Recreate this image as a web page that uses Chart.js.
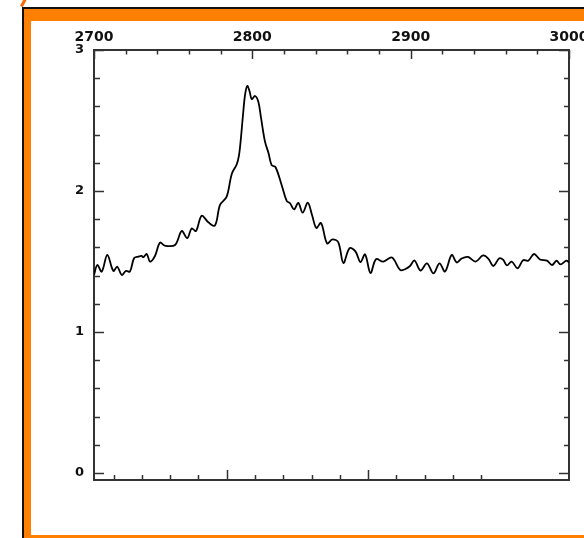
<!DOCTYPE html>
<html>
<head>
<meta charset="utf-8">
<script src="https://cdn.jsdelivr.net/npm/chart.js@4"></script>
<style>
  html, body { margin: 0; padding: 0; width: 584px; height: 538px; overflow: hidden; background: #fff; }
  #frame { position: absolute; left: 22px; top: 7px; width: 640px; height: 600px;
           border-left: 2px solid #111; border-top: 2px solid #111; background: #ff8000; }
  #inner { position: absolute; left: 31px; top: 21px; width: 620px; height: 514px; background: #fff; }
  #streak { position: absolute; left: 22px; top: -2px; width: 3px; height: 9px; background: #ff6a00;
            transform: rotate(28deg); }
  #chart { position: absolute; left: 0; top: 0; }
</style>
</head>
<body>
<div id="streak"></div>
<div id="frame"></div>
<div id="inner"></div>
<canvas id="chart" width="584" height="538"></canvas>
<script>
// spectrum: wavelength vs flux
const wave = [2700,2702.1,2704.9,2708.4,2712.2,2714.7,2717.5,2720.2,2722.7,2725.3,
  2728.0,2730.1,2731.1,2733.3,2735.4,2738.5,2741.7,2744.8,2751.2,2755.4,
  2758.9,2761.7,2764.4,2768.0,2772.2,2776.4,2779.6,2783.8,2787.0,2790.1,
  2791.6,2792.8,2794.1,2795.4,2796.8,2798.2,2799.6,2801.7,2803.8,2805.5,
  2808.0,2810.2,2812.2,2814.6,2818.5,2821.7,2823.8,2826.3,2829.0,2831.8,
  2835.0,2837.7,2840.4,2843.4,2847.2,2850.6,2854.3,2857.5,2861.4,2865.2,
  2868.3,2871.2,2874.6,2878.1,2882.7,2888.2,2893.3,2896.4,2899.6,2902.4,
  2906.2,2910.3,2914.4,2918.2,2921.7,2925.9,2929.1,2932.2,2936.2,2941.0,
  2945.7,2949.0,2952.2,2956.0,2958.5,2960.8,2963.8,2967.5,2971.0,2974.3,
  2977.9,2981.7,2986.1,2989.3,2992.1,2994.6,2998.3,3000];
const flux = [1.404,1.475,1.428,1.546,1.433,1.463,1.404,1.433,1.428,1.523,
  1.534,1.539,1.530,1.553,1.499,1.539,1.633,1.612,1.617,1.716,
  1.665,1.735,1.716,1.825,1.778,1.755,1.901,1.960,2.121,2.188,
  2.255,2.376,2.539,2.681,2.745,2.709,2.652,2.674,2.633,2.518,
  2.350,2.270,2.184,2.170,2.043,1.929,1.913,1.869,1.915,1.846,
  1.917,1.830,1.738,1.773,1.628,1.657,1.636,1.489,1.594,1.570,
  1.496,1.550,1.418,1.516,1.499,1.528,1.440,1.445,1.468,1.507,
  1.436,1.487,1.416,1.487,1.429,1.546,1.493,1.521,1.532,1.499,
  1.543,1.521,1.468,1.523,1.511,1.472,1.499,1.452,1.509,1.506,
  1.553,1.514,1.506,1.475,1.505,1.479,1.506,1.493];

// tick values
const xMajor = [2700, 2800, 2900, 3000];
const xMinor = [2720,2740,2760,2780,2820,2840,2860,2880,2920,2940,2960,2980];
const yMajor = [0, 1, 2, 3];
const yMinor = [0.2,0.4,0.6,0.8,1.2,1.4,1.6,1.8,2.2,2.4,2.6,2.8];
const botMajor = [5, 10];
const botMinor = [1,2,3,4,6,7,8,9,11,12,13,14];

const AXIS = "#333";

// inward tick marks, placed through each scale
const inwardTicks = {
  id: "inwardTicks",
  afterDraw(chart) {
    const { ctx, chartArea: a, scales } = chart;
    ctx.save();
    ctx.strokeStyle = AXIS;
    ctx.lineWidth = 1.5;
    const vtick = (scale, vals, len, y0, dir) => vals.forEach(v => {
      const px = Math.round(scale.getPixelForValue(v)) + 0.5;
      ctx.beginPath(); ctx.moveTo(px, y0); ctx.lineTo(px, y0 + dir * len); ctx.stroke();
    });
    const htick = (scale, vals, len, x0, dir) => vals.forEach(v => {
      const py = Math.round(scale.getPixelForValue(v)) + 0.5;
      ctx.beginPath(); ctx.moveTo(x0, py); ctx.lineTo(x0 + dir * len, py); ctx.stroke();
    });
    vtick(scales.x, xMajor, 9, a.top, 1);
    vtick(scales.x, xMinor, 4.5, a.top, 1);
    vtick(scales.x2, botMajor, 10, a.bottom, -1);
    vtick(scales.x2, botMinor, 5, a.bottom, -1);
    htick(scales.y, yMajor, 10, a.left, 1);
    htick(scales.y, yMinor, 6, a.left, 1);
    htick(scales.y, yMajor, 10, a.right, -1);
    htick(scales.y, yMinor, 5, a.right, -1);
    ctx.restore();
  }
};

const noGrid = { display: false, drawTicks: false };
const border = { display: true, color: AXIS, width: 2 };

new Chart(document.getElementById("chart"), {
  type: "line",
  data: {
    datasets: [{
      data: wave.map((w, i) => ({ x: w, y: flux[i] })),
      borderColor: "#000",
      borderWidth: 1.8,
      pointRadius: 0,
      tension: 0.35,
      fill: false,
      xAxisID: "x",
      yAxisID: "y",
    }],
  },
  options: {
    responsive: false,
    animation: false,
    parsing: false,
    layout: { padding: { left: 0, top: 0, right: 15, bottom: 58 } },
    plugins: { legend: { display: false }, tooltip: { enabled: false } },
    scales: {
      x: {
        type: "linear", position: "top", min: 2700, max: 3000,
        grid: noGrid, border,
        afterBuildTicks: s => { s.ticks = xMajor.map(v => ({ value: v })); },
        ticks: { padding: 4, maxRotation: 0, autoSkip: false, color: "#111",
                 font: { family: "DejaVu Sans", size: 14, weight: "bold" },
                 callback: v => String(v) },
        afterFit: s => { s.height = 50; s.paddingLeft = 0; s.paddingRight = 0; },
      },
      x2: {
        type: "linear", position: "bottom", min: 0.31, max: 17.1,
        grid: noGrid, border,
        ticks: { display: false },
        afterFit: s => { s.height = 0; s.paddingLeft = 0; s.paddingRight = 0; },
      },
      y: {
        type: "linear", position: "left", min: -0.05, max: 3,
        grid: noGrid, border,
        afterBuildTicks: s => { s.ticks = yMajor.map(v => ({ value: v })); },
        ticks: { padding: 10, color: "#111",
                 font: { family: "DejaVu Sans", size: 13, weight: "bold" },
                 callback: v => String(v) },
        afterFit: s => { s.width = 94; s.paddingTop = 0; s.paddingBottom = 0; },
      },
      y2: {
        type: "linear", position: "right", min: -0.05, max: 3,
        grid: noGrid, border,
        ticks: { display: false },
        afterFit: s => { s.width = 0; s.paddingTop = 0; s.paddingBottom = 0; },
      },
    },
  },
  plugins: [inwardTicks],
});
</script>
</body>
</html>
